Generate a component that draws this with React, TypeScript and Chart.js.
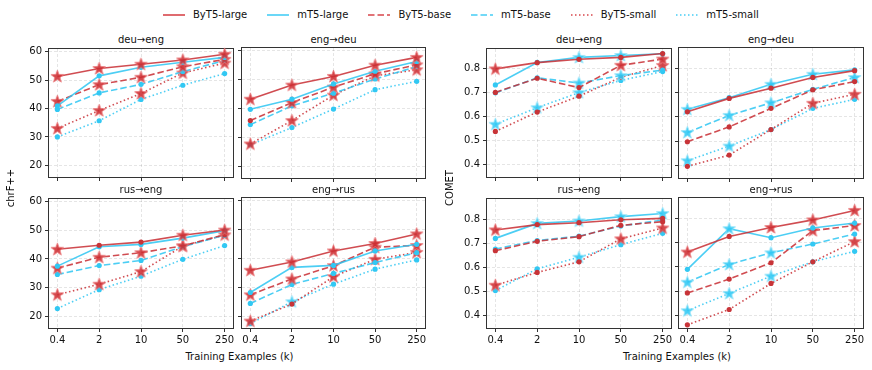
import React, { useEffect, useRef } from "react";
import { Chart, registerables } from "chart.js";

Chart.register(...registerables);

// ---------- data ----------
const SERIES = ["ByT5-large", "mT5-large", "ByT5-base", "mT5-base", "ByT5-small", "mT5-small"];
const X_LABELS = ["0.4", "2", "10", "50", "250"];
const CHRF_TICKS = [20, 30, 40, 50, 60];
const COMET_TICKS = [0.4, 0.5, 0.6, 0.7, 0.8];

// rows follow SERIES order
const chrfDeuEng = [
  [51.3, 54.1, 55.6, 57.1, 59.1],
  [40.9, 51.5, 54.5, 56.3, 58.0],
  [42.5, 48.4, 51.0, 54.7, 57.3],
  [39.7, 45.5, 48.5, 53.0, 56.9],
  [33.0, 39.3, 45.3, 52.5, 56.0],
  [30.0, 35.7, 43.2, 48.2, 52.3],
];
const chrfEngDeu = [
  [43.2, 48.1, 51.1, 55.0, 57.7],
  [39.7, 43.2, 48.5, 52.9, 56.3],
  [35.8, 42.0, 47.4, 52.0, 55.1],
  [34.4, 40.9, 45.3, 50.2, 54.5],
  [27.7, 35.8, 44.6, 51.3, 53.4],
  [27.4, 33.4, 39.8, 46.5, 49.4],
];
const chrfRusEng = [
  [43.4, 44.8, 45.9, 48.3, 50.1],
  [37.5, 44.3, 45.1, 47.3, 49.9],
  [36.8, 40.6, 42.2, 44.6, 48.5],
  [34.6, 37.7, 39.5, 44.3, 48.3],
  [27.5, 31.2, 35.6, 44.5, 48.4],
  [22.7, 29.3, 34.0, 39.9, 44.7],
];
const chrfEngRus = [
  [35.9, 38.8, 42.6, 45.2, 48.5],
  [28.2, 36.9, 37.6, 42.6, 44.9],
  [27.4, 32.9, 37.5, 43.9, 44.5],
  [24.4, 31.0, 34.8, 38.6, 42.0],
  [18.3, 24.2, 33.7, 39.7, 42.1],
  [17.4, 25.0, 31.1, 36.3, 39.5],
];
const cometDeuEng = [
  [0.8, 0.826, 0.84, 0.848, 0.864],
  [0.733, 0.827, 0.848, 0.856, 0.863],
  [0.702, 0.761, 0.722, 0.815, 0.841],
  [0.7, 0.763, 0.741, 0.772, 0.795],
  [0.539, 0.62, 0.686, 0.765, 0.814],
  [0.569, 0.638, 0.701, 0.752, 0.789],
];
const cometEngDeu = [
  [0.621, 0.676, 0.718, 0.762, 0.79],
  [0.631, 0.679, 0.734, 0.775, 0.793],
  [0.498, 0.559, 0.635, 0.711, 0.745],
  [0.536, 0.606, 0.658, 0.713, 0.762],
  [0.397, 0.443, 0.548, 0.656, 0.693],
  [0.42, 0.48, 0.548, 0.635, 0.672],
];
const cometRusEng = [
  [0.755, 0.777, 0.785, 0.797, 0.803],
  [0.72, 0.782, 0.792, 0.81, 0.823],
  [0.669, 0.708, 0.727, 0.774, 0.789],
  [0.676, 0.711, 0.729, 0.771, 0.796],
  [0.526, 0.579, 0.623, 0.718, 0.763],
  [0.504, 0.594, 0.642, 0.694, 0.741],
];
const cometEngRus = [
  [0.661, 0.725, 0.762, 0.793, 0.832],
  [0.59, 0.757, 0.72, 0.76, 0.78],
  [0.493, 0.55, 0.617, 0.749, 0.77],
  [0.537, 0.61, 0.658, 0.694, 0.735],
  [0.362, 0.425, 0.532, 0.621, 0.704],
  [0.42, 0.491, 0.562, 0.621, 0.664],
];

// '*' = star marker, '.' = dot marker
const mkChrfDeuEng = ["*****", ".....", "*****", ".....", "*****", "....."];
const mkChrfEngDeu = ["*****", ".....", ".****", ".....", "*****", "....."];
const mkChrfRusEng = ["*..**", ".....", "****.", ".....", "*****", "....."];
const mkChrfEngRus = ["*****", ".....", "*****", ".....", "*.***", ".*..."];
const mkCometDeuEng = ["*....", "..**.", "...**", "..**.", "....*", "***.."];
const mkCometEngDeu = [".....", "*.**.", ".....", "***.*", "...**", "**..."];
const mkCometRusEng = ["*....", ".****", ".....", ".....", "*..**", "..*.."];
const mkCometEngRus = ["*.***", ".*...", "...**", "***..", "....*", "***.."];

// ---------- styles ----------
const RED_LINE = "rgba(200,45,50,0.85)";
const CYAN_LINE = "rgba(45,198,242,0.85)";
const LINE_COLORS = [RED_LINE, CYAN_LINE, RED_LINE, CYAN_LINE, RED_LINE, CYAN_LINE];
const DASHES: number[][] = [[], [], [6.5, 3], [6.5, 3], [1.5, 2.5], [1.5, 2.5]];
const FONT = "'DejaVu Sans', sans-serif";

function makeStar(fill: string, stroke: string) {
  const c = document.createElement("canvas");
  c.width = 15;
  c.height = 15;
  const ctx = c.getContext("2d")!;
  ctx.beginPath();
  for (let i = 0; i < 10; i++) {
    const r = i % 2 === 0 ? 6.6 : 2.7;
    const a = -Math.PI / 2 + (i * Math.PI) / 5;
    ctx.lineTo(7.5 + r * Math.cos(a), 7.8 + r * Math.sin(a));
  }
  ctx.closePath();
  ctx.fillStyle = fill;
  ctx.fill();
  ctx.strokeStyle = stroke;
  ctx.lineWidth = 1;
  ctx.stroke();
  return c;
}

const framePlugin = {
  id: "frame",
  beforeDatasetsDraw(chart: any) {
    const { ctx, chartArea: a } = chart;
    ctx.save();
    ctx.strokeStyle = "#333";
    ctx.lineWidth = 1;
    ctx.strokeRect(a.left - 0.5, a.top - 0.5, a.right - a.left + 1, a.bottom - a.top + 1);
    ctx.restore();
  },
};

type PanelProps = {
  title: string;
  values: number[][];
  markers: string[];
  yTicks: number[];
  yMin: number;
  yMax: number;
  left: number;
  top: number;
  width: number;
  height: number;
  showY: boolean;
  showX: boolean;
};

function Panel(p: PanelProps) {
  const ref = useRef<HTMLCanvasElement>(null);
  const padL = p.showY ? 40 : 8;
  const padT = 8;
  const padR = 8;
  const padB = p.showX ? 22 : 8;
  const cw = p.width + padL + padR;
  const ch = p.height + padT + padB;

  useEffect(() => {
    const starRed = makeStar("rgba(205,45,50,0.88)", "rgba(235,120,122,0.85)");
    const starCyan = makeStar("rgba(45,200,245,0.88)", "rgba(150,228,250,0.9)");
    const datasets = SERIES.map((name, i) => {
      const isRed = i % 2 === 0;
      const m = p.markers[i].split("");
      return {
        label: name,
        data: p.values[i].map((v, j) => ({ x: j, y: v })),
        borderColor: LINE_COLORS[i],
        borderWidth: 1.6,
        borderDash: DASHES[i],
        tension: 0,
        fill: false,
        clip: false as any,
        pointStyle: m.map((c) => (c === "*" ? (isRed ? starRed : starCyan) : "circle")),
        pointRadius: m.map((c) => (c === "*" ? 6 : 2.6)),
        pointBackgroundColor: isRed ? "rgb(200,52,56)" : "rgb(50,200,243)",
        pointBorderWidth: 0,
        pointBorderColor: "rgba(0,0,0,0)",
      };
    });
    const gridCommon = {
      color: "rgba(0,0,0,0.13)",
      lineWidth: 0.8,
      tickColor: "#333",
      tickLength: 4,
      tickWidth: 1,
      drawTicks: true,
      tickBorderDash: [],
    };
    const chart = new Chart(ref.current!, {
      type: "line",
      data: { datasets: datasets as any },
      plugins: [framePlugin],
      options: {
        animation: false,
        responsive: false,
        devicePixelRatio: 1,
        layout: { padding: { top: padT, right: padR, left: 0, bottom: 0 } },
        plugins: {
          legend: { display: false },
          title: { display: false },
          tooltip: { enabled: false },
        },
        scales: {
          x: {
            type: "linear",
            min: -0.2,
            max: 4.2,
            afterBuildTicks: (s: any) => {
              s.ticks = X_LABELS.map((_, i) => ({ value: i }));
            },
            afterFit: (s: any) => {
              s.height = padB;
            },
            ticks: {
              display: p.showX,
              autoSkip: false,
              maxRotation: 0,
              padding: 2,
              color: "#111",
              font: { family: FONT, size: 10 },
              callback: (v: any) => X_LABELS[Math.round(v)],
            },
            grid: gridCommon as any,
            border: { display: false, dash: [3, 2] },
          },
          y: {
            type: "linear",
            min: p.yMin,
            max: p.yMax,
            afterBuildTicks: (s: any) => {
              s.ticks = p.yTicks.map((v) => ({ value: v }));
            },
            afterFit: (s: any) => {
              s.width = padL;
            },
            ticks: {
              display: p.showY,
              autoSkip: false,
              padding: 3,
              color: "#111",
              font: { family: FONT, size: 10 },
              callback: (v: any) => String(v),
            },
            grid: gridCommon as any,
            border: { display: false, dash: [3, 2] },
          },
        },
      } as any,
    });
    return () => chart.destroy();
  }, []);

  return (
    <>
      <div
        style={{
          position: "absolute",
          left: p.left,
          top: p.top - 14,
          width: p.width,
          textAlign: "center",
          font: `10px ${FONT}`,
          lineHeight: "12px",
          color: "#111",
        }}
      >
        {p.title}
      </div>
      <canvas
        ref={ref}
        width={cw}
        height={ch}
        style={{ position: "absolute", left: p.left - padL, top: p.top - padT, width: cw, height: ch }}
      />
    </>
  );
}

const CHRF_COLS = [[49, 184], [242, 183]];
const COMET_COLS = [[487, 184], [679, 184]];
const ROWS = [[48, 130], [198, 130]];

const PANELS = [
  { title: "deu→eng", values: chrfDeuEng, markers: mkChrfDeuEng, metric: "chrf", c: 0, r: 0 },
  { title: "eng→deu", values: chrfEngDeu, markers: mkChrfEngDeu, metric: "chrf", c: 1, r: 0 },
  { title: "rus→eng", values: chrfRusEng, markers: mkChrfRusEng, metric: "chrf", c: 0, r: 1 },
  { title: "eng→rus", values: chrfEngRus, markers: mkChrfEngRus, metric: "chrf", c: 1, r: 1 },
  { title: "deu→eng", values: cometDeuEng, markers: mkCometDeuEng, metric: "comet", c: 0, r: 0 },
  { title: "eng→deu", values: cometEngDeu, markers: mkCometEngDeu, metric: "comet", c: 1, r: 0 },
  { title: "rus→eng", values: cometRusEng, markers: mkCometRusEng, metric: "comet", c: 0, r: 1 },
  { title: "eng→rus", values: cometEngRus, markers: mkCometEngRus, metric: "comet", c: 1, r: 1 },
];

function LegendItem({ i }: { i: number }) {
  const isRed = i % 2 === 0;
  const dash = DASHES[i].length ? DASHES[i].join(" ") : undefined;
  return (
    <div style={{ display: "flex", alignItems: "center", marginRight: 20 }}>
      <svg width={22} height={10} style={{ marginRight: 8 }}>
        <line
          x1={0}
          y1={5}
          x2={22}
          y2={5}
          stroke={isRed ? "rgb(215,70,75)" : "rgb(70,205,245)"}
          strokeWidth={1.6}
          strokeDasharray={dash}
        />
      </svg>
      <span>{SERIES[i]}</span>
    </div>
  );
}

export default function App() {
  const textStyle = { font: `10px ${FONT}`, lineHeight: "12px", color: "#111" };
  return (
    <div
      style={{
        position: "fixed",
        left: 0,
        top: 0,
        width: 872,
        height: 370,
        background: "#fff",
        overflow: "hidden",
      }}
    >
      <div style={{ position: "absolute", left: 163, top: 9, display: "flex", ...textStyle }}>
        {SERIES.map((_, i) => (
          <LegendItem key={i} i={i} />
        ))}
      </div>
      {PANELS.map((pp, k) => {
        const cols = pp.metric === "chrf" ? CHRF_COLS : COMET_COLS;
        const [l, w] = cols[pp.c];
        const [t, h] = ROWS[pp.r];
        const isChrf = pp.metric === "chrf";
        return (
          <Panel
            key={k}
            title={pp.title}
            values={pp.values}
            markers={pp.markers}
            yTicks={isChrf ? CHRF_TICKS : COMET_TICKS}
            yMin={isChrf ? 15.9 : 0.349}
            yMax={isChrf ? 60.95 : 0.883}
            left={l}
            top={t}
            width={w}
            height={h}
            showY={pp.c === 0}
            showX={pp.r === 1}
          />
        );
      })}
      <div style={{ position: "absolute", left: 139.5, top: 351, width: 200, textAlign: "center", ...textStyle }}>
        Training Examples (k)
      </div>
      <div style={{ position: "absolute", left: 577, top: 351, width: 200, textAlign: "center", ...textStyle }}>
        Training Examples (k)
      </div>
      <div
        style={{
          position: "absolute",
          left: 11 - 50,
          top: 188 - 6,
          width: 100,
          textAlign: "center",
          transform: "rotate(-90deg)",
          ...textStyle,
        }}
      >
        chrF++
      </div>
      <div
        style={{
          position: "absolute",
          left: 450 - 50,
          top: 188 - 6,
          width: 100,
          textAlign: "center",
          transform: "rotate(-90deg)",
          ...textStyle,
        }}
      >
        COMET
      </div>
    </div>
  );
}
